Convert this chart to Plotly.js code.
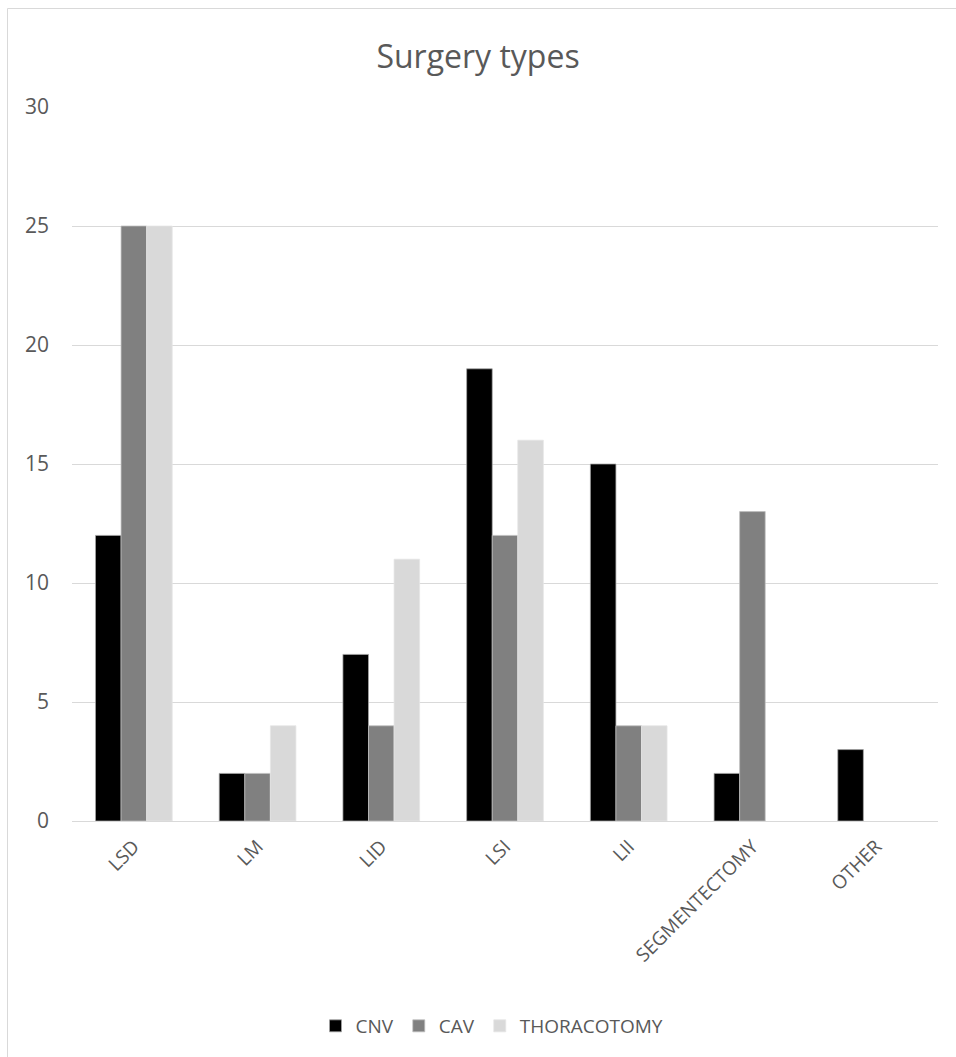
<!DOCTYPE html>
<html>
<head>
<meta charset="utf-8">
<script src="https://cdn.plot.ly/plotly-3.0.1.min.js"></script>
<style>
html,body{margin:0;padding:0;background:#fff;}
#chart{width:956px;height:1057px;}
</style>
</head>
<body>
<div id="chart"></div>
<script>
const categories = ["LSD", "LM", "LID", "LSI", "LII", "SEGMENTECTOMY", "OTHER"];
const cnv = [12, 2, 7, 19, 15, 2, 3];
const cav = [25, 2, 4, 12, 4, 13, 0];
const thoracotomy = [25, 4, 11, 16, 4, 0, 0];
const seriesNames = ["CNV", "CAV", "THORACOTOMY"];
const yTicks = [0, 5, 10, 15, 20, 25, 30];

const colors = ["#000000", "#808080", "#d9d9d9"];
const lineColors = ["#a6a6a6", "#bfbfbf", "#e6e6e6"];
const values = [cnv, cav, thoracotomy];

const traces = values.map((v, i) => ({
  type: "bar",
  name: seriesNames[i],
  x: categories,
  y: v,
  marker: { color: colors[i], line: { color: lineColors[i], width: v.map(d => d === 0 ? 0 : 0.75) } },
  hoverinfo: "x+y+name"
}));

const font = "Open Sans, Liberation Sans, sans-serif";
const L = 72, R = 18, T = 107, B = 236;
const W = 956, H = 1057;
const pw = W - L - R, ph = H - T - B;
const px = x => (x - L) / pw;
const py = y => (H - B - y) / ph;

const layout = {
  width: W, height: H,
  margin: { l: L, r: R, t: T, b: B, pad: 0 },
  paper_bgcolor: "#ffffff",
  plot_bgcolor: "#ffffff",
  title: {
    text: "Surgery types",
    font: { family: font, size: 32, color: "#595959" },
    x: 0.5, xref: "container", xanchor: "center",
    y: 1 - 57 / H, yref: "container", yanchor: "middle"
  },
  barmode: "group",
  bargap: 0.38,
  bargroupgap: 0,
  xaxis: {
    type: "category",
    tickangle: -45,
    tickfont: { family: font, size: 19, color: "#595959" },
    showgrid: false,
    showline: true,
    linecolor: "#d9d9d9",
    linewidth: 1,
    ticks: "",
    ticklabelstandoff: 6
  },
  yaxis: {
    range: [0, 30],
    tickvals: yTicks,
    ticktext: yTicks.map(String),
    tickfont: { family: font, size: 21, color: "#595959" },
    showgrid: true,
    gridcolor: "#d9d9d9",
    gridwidth: 1,
    zeroline: false,
    showline: false,
    ticks: "",
    ticklabelstandoff: 22
  },
  showlegend: true,
  legend: {
    orientation: "h",
    x: px(492), xanchor: "center",
    y: py(1026), yanchor: "middle",
    font: { family: font, size: 19, color: "#595959" },
    itemclick: false,
    itemwidth: 20,
    traceorder: "normal"
  },
  shapes: [
    { type: "line", xref: "paper", yref: "paper", x0: px(7.5), x1: px(960), y0: py(8.5), y1: py(8.5), line: { color: "#d9d9d9", width: 1 } },
    { type: "line", xref: "paper", yref: "paper", x0: px(7.5), x1: px(7.5), y0: py(8.5), y1: py(1060), line: { color: "#d9d9d9", width: 1 } }
  ]
};

Plotly.newPlot("chart", traces, layout, { displayModeBar: false, staticPlot: true });
</script>
</body>
</html>
